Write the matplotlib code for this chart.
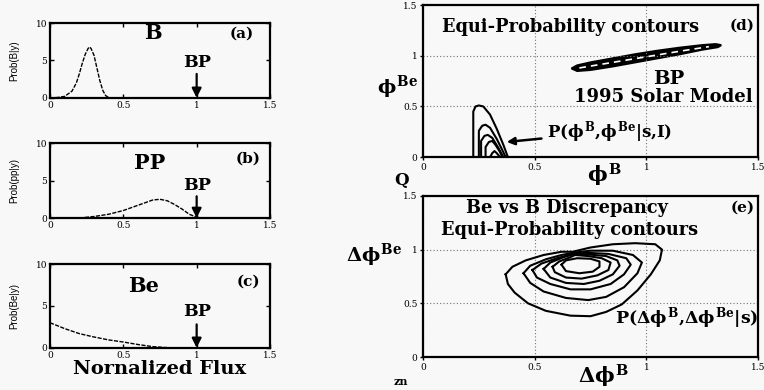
import matplotlib
matplotlib.use('Agg')
import matplotlib.pyplot as plt

# ---- data ----
# (a) B flux posterior
b_x = [0.0, 0.05, 0.10, 0.15, 0.18, 0.20, 0.22, 0.24, 0.26, 0.27, 0.28, 0.30, 0.32, 0.34, 0.36, 0.38, 0.40, 0.42]
b_y = [0.0, 0.05, 0.2, 0.9, 2.0, 3.2, 4.6, 5.8, 6.6, 6.8, 6.6, 5.7, 4.0, 2.3, 1.0, 0.3, 0.05, 0.0]
# (b) pp flux posterior
pp_x = [0.20, 0.30, 0.40, 0.50, 0.60, 0.70, 0.75, 0.80, 0.85, 0.90, 0.95, 1.00, 1.05]
pp_y = [0.0, 0.2, 0.5, 1.0, 1.7, 2.4, 2.5, 2.3, 1.8, 1.2, 0.5, 0.1, 0.0]
# (c) Be flux posterior
be_x = [0.0, 0.1, 0.2, 0.3, 0.4, 0.5, 0.6, 0.7, 0.8, 0.9]
be_y = [3.0, 2.3, 1.7, 1.3, 0.95, 0.7, 0.4, 0.15, 0.03, 0.0]

flux_ticks = [0, 0.5, 1, 1.5]
flux_ticklabels = ['0', '0.5', '1', '1.5']
prob_ticks = [0, 5, 10]
prob_ticklabels = ['0', '5', '10']

# (d) BP 1995 solar model contour (outer) and inner ridge
bp_outer = [(0.665, 0.875), (0.69, 0.905), (0.75, 0.935), (0.85, 0.975), (0.95, 1.015), (1.05, 1.05),
            (1.15, 1.08), (1.25, 1.105), (1.31, 1.115), (1.335, 1.105), (1.32, 1.085), (1.25, 1.06),
            (1.15, 1.015), (1.05, 0.975), (0.95, 0.935), (0.85, 0.895), (0.75, 0.86), (0.69, 0.85), (0.665, 0.875)]
bp_inner = [(0.70, 0.88), (0.85, 0.935), (1.00, 0.99), (1.15, 1.045), (1.28, 1.09)]

# (d) P(phiB, phiBe | s, I) contours (cut at phiBe = 0)
d_contours = [
    [(0.225, 0.0), (0.225, 0.45), (0.235, 0.50), (0.25, 0.51), (0.27, 0.50), (0.30, 0.42), (0.33, 0.28), (0.36, 0.12), (0.38, 0.0)],
    [(0.25, 0.0), (0.25, 0.26), (0.265, 0.31), (0.28, 0.32), (0.30, 0.29), (0.33, 0.18), (0.355, 0.07), (0.37, 0.0)],
    [(0.26, 0.0), (0.26, 0.16), (0.275, 0.21), (0.29, 0.22), (0.31, 0.19), (0.335, 0.10), (0.36, 0.0)],
    [(0.28, 0.0), (0.28, 0.10), (0.295, 0.15), (0.31, 0.16), (0.325, 0.12), (0.345, 0.05), (0.355, 0.0)],
    [(0.30, 0.0), (0.31, 0.04), (0.32, 0.06), (0.33, 0.04), (0.345, 0.0)],
]

# (e) P(dphiB, dphiBe | s) contours
e_contours = [
    [(0.37, 0.77), (0.40, 0.84), (0.46, 0.90), (0.54, 0.95), (0.62, 0.98), (0.67, 0.98), (0.75, 1.02), (0.85, 1.05),
     (0.95, 1.06), (1.04, 1.05), (1.07, 1.00), (1.06, 0.90), (1.02, 0.77), (0.96, 0.62), (0.89, 0.49), (0.82, 0.42),
     (0.75, 0.38), (0.66, 0.385), (0.55, 0.43), (0.47, 0.50), (0.41, 0.60), (0.38, 0.68), (0.37, 0.77)],
    [(0.45, 0.78), (0.48, 0.85), (0.55, 0.91), (0.62, 0.95), (0.67, 0.97), (0.75, 0.99), (0.85, 0.99), (0.94, 0.95),
     (0.98, 0.88), (0.96, 0.78), (0.90, 0.65), (0.82, 0.56), (0.74, 0.53), (0.64, 0.55), (0.54, 0.61), (0.48, 0.69), (0.45, 0.78)],
    [(0.49, 0.81), (0.53, 0.87), (0.60, 0.92), (0.67, 0.96), (0.74, 0.97), (0.83, 0.96), (0.91, 0.92), (0.93, 0.86),
     (0.90, 0.77), (0.84, 0.68), (0.75, 0.63), (0.66, 0.63), (0.57, 0.68), (0.51, 0.74), (0.49, 0.81)],
    [(0.54, 0.82), (0.57, 0.88), (0.63, 0.93), (0.67, 0.955), (0.74, 0.955), (0.82, 0.94), (0.87, 0.90), (0.88, 0.85),
     (0.85, 0.77), (0.79, 0.71), (0.72, 0.68), (0.64, 0.69), (0.57, 0.74), (0.54, 0.82)],
    [(0.58, 0.84), (0.61, 0.89), (0.66, 0.93), (0.68, 0.95), (0.74, 0.94), (0.80, 0.92), (0.84, 0.88), (0.83, 0.81),
     (0.78, 0.76), (0.71, 0.73), (0.64, 0.74), (0.59, 0.79), (0.58, 0.84)],
    [(0.62, 0.86), (0.64, 0.90), (0.69, 0.92), (0.75, 0.915), (0.79, 0.89), (0.79, 0.84), (0.76, 0.795), (0.70, 0.78),
     (0.64, 0.80), (0.62, 0.86)],
]

phi_ticks = [0, 0.5, 1, 1.5]
phi_ticklabels = ['0', '0.5', '1', '1.5']

# ---- figure ----
bg = '#f7f8f7'
plt.rcParams['mathtext.fontset'] = 'custom'
plt.rcParams['mathtext.rm'] = 'DejaVu Serif:bold'
plt.rcParams['mathtext.it'] = 'DejaVu Serif:bold'
plt.rcParams['mathtext.bf'] = 'DejaVu Serif:bold'
plt.rcParams['font.family'] = 'DejaVu Serif'
fig = plt.figure(figsize=(7.64, 3.9), dpi=100, facecolor=bg)

def frame(ax, xt, xtl, yt, ytl, ylim):
    ax.set_facecolor(bg)
    ax.set_xlim(0, 1.5)
    ax.set_ylim(*ylim)
    ax.set_xticks(xt)
    ax.set_xticklabels(xtl, fontsize=6.5)
    ax.set_yticks(yt)
    ax.set_yticklabels(ytl, fontsize=6.5)
    ax.tick_params(direction='in', length=3, width=1, top=True, right=True, pad=2)
    for s in ax.spines.values():
        s.set_linewidth(1.6)

left_panels = [
    ([0.0654, 0.749, 0.288, 0.192], b_x, b_y, 'Prob(B|y)', 'B', '(a)', (0.70, 8.6), (1.31, 8.6), 4.7),
    ([0.0654, 0.441, 0.288, 0.192], pp_x, pp_y, 'Prob(pp|y)', 'PP', '(b)', (0.68, 7.4), (1.35, 7.9), 4.4),
    ([0.0654, 0.108, 0.288, 0.215], be_x, be_y, 'Prob(Be|y)', 'Be', '(c)', (0.64, 7.4), (1.35, 7.9), 4.3),
]
for rect, xs, ys, ylab, name, tag, name_xy, tag_xy, bp_y in left_panels:
    ax = fig.add_axes(rect)
    frame(ax, flux_ticks, flux_ticklabels, prob_ticks, prob_ticklabels, (0, 10))
    ax.plot(xs, ys, color='k', lw=1.0, ls=(0, (3, 1)))
    ax.text(*name_xy, name, fontsize=15, fontweight='bold', ha='center', va='center')
    ax.text(*tag_xy, tag, fontsize=11, fontweight='bold', ha='center', va='center')
    ax.text(1.0, bp_y, 'BP', fontsize=12.5, fontweight='bold', ha='center', va='center')
    ax.annotate('', xy=(1.0, 0.0), xytext=(1.0, bp_y - 1.5),
                arrowprops=dict(arrowstyle='-|>', color='k', lw=1.6, mutation_scale=14, shrinkA=0, shrinkB=0))
    ax.set_ylabel(ylab, fontsize=7, family='Liberation Sans', labelpad=2)
    ax.yaxis.set_label_coords(-0.14, 0.5)
    if name == 'Be':
        ax.set_xlabel('Nornalized Flux', fontsize=14, fontweight='bold', labelpad=0)

# (d)
axd = fig.add_axes([0.5537, 0.597, 0.4385, 0.390])
frame(axd, phi_ticks, phi_ticklabels, phi_ticks, phi_ticklabels, (0, 1.5))
axd.tick_params(top=False, right=False, direction='out', length=2)
axd.grid(True, ls=(0, (1, 2)), color='0.45', lw=0.8)
axd.fill([p[0] for p in bp_outer], [p[1] for p in bp_outer], color='k', lw=1.5)
axd.plot([p[0] for p in bp_inner], [p[1] for p in bp_inner], color='white', lw=1.2, ls=(0, (4, 3)))
for c in d_contours:
    axd.plot([p[0] for p in c], [p[1] for p in c], color='k', lw=1.5)
axd.text(0.66, 1.28, 'Equi-Probability contours', fontsize=12.8, fontweight='bold', ha='center', va='center')
axd.text(1.43, 1.30, '(d)', fontsize=11, fontweight='bold', ha='center', va='center')
axd.text(1.10, 0.77, 'BP', fontsize=14, fontweight='bold', ha='center', va='center')
axd.text(1.075, 0.59, '1995 Solar Model', fontsize=13, fontweight='bold', ha='center', va='center')
axd.annotate(r'P($\phi^{\rm B}$,$\phi^{\rm Be}$|s,I)', xy=(0.375, 0.15), xytext=(0.555, 0.25),
             fontsize=12, fontweight='bold', va='center', ha='left',
             arrowprops=dict(arrowstyle='-|>', color='k', lw=1.8, mutation_scale=11, shrinkA=2, shrinkB=0))
axd.set_xlabel(r'$\phi^{\rm B}$', fontsize=15)
axd.xaxis.set_label_coords(0.54, -0.03)
fig.text(0.52, 0.776, r'$\phi^{\rm Be}$', fontsize=14, ha='center', va='center')
fig.text(0.525, 0.538, 'Q', fontsize=12, fontweight='bold', ha='center', va='center')

# (e)
axe = fig.add_axes([0.5537, 0.0846, 0.4385, 0.413])
frame(axe, phi_ticks, phi_ticklabels, phi_ticks, phi_ticklabels, (0, 1.5))
axe.tick_params(top=False, right=False, direction='out', length=2)
axe.grid(True, ls=(0, (1, 2)), color='0.45', lw=0.8)
for c in e_contours:
    axe.plot([p[0] for p in c], [p[1] for p in c], color='k', lw=1.5)
axe.text(0.645, 1.39, 'Be vs B Discrepancy', fontsize=12.8, fontweight='bold', ha='center', va='center')
axe.text(0.655, 1.18, 'Equi-Probability contours', fontsize=12.8, fontweight='bold', ha='center', va='center')
axe.text(1.43, 1.39, '(e)', fontsize=11, fontweight='bold', ha='center', va='center')
axe.text(1.18, 0.36, r'P($\Delta\phi^{\rm B}$,$\Delta\phi^{\rm Be}$|s)', fontsize=12.5, fontweight='bold',
         ha='center', va='center')
axe.set_xlabel(r'$\Delta\phi^{\rm B}$', fontsize=15)
axe.xaxis.set_label_coords(0.54, -0.035)
fig.text(0.49, 0.346, r'$\Delta\phi^{\rm Be}$', fontsize=14, ha='center', va='center')
fig.text(0.524, 0.023, 'zn', fontsize=8, fontweight='bold', ha='center', va='center')

fig.savefig('out.png', dpi=100, facecolor=bg)
